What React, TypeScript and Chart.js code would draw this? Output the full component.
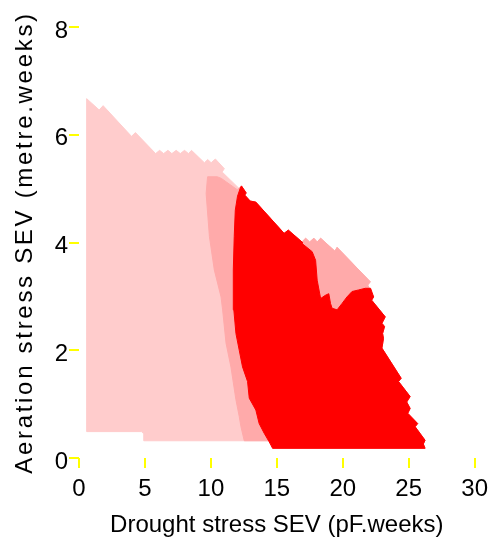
import React, { useEffect, useRef } from "react";
import { Chart, registerables } from "chart.js";

Chart.register(...registerables);

// Axis ticks
const xTicks = [0, 5, 10, 15, 20, 25, 30];
const yTicks = [0, 2, 4, 6, 8];
const xTitle = "Drought stress SEV (pF.weeks)";
const yTitle = "Aeration stress SEV (metre.weeks)";

// Outer envelope, pieces in clockwise order (x = drought SEV, y = aeration SEV)
const envLeft: [number, number][] = [
  [0.58, 0.49], [0.58, 6.67], [1.53, 6.46], [1.83, 6.54], [3.98, 5.97], [4.28, 6.04],
  [5.81, 5.65], [6.11, 5.71], [6.42, 5.65], [6.74, 5.71], [7.04, 5.65], [7.37, 5.71],
  [7.68, 5.65], [8.0, 5.71], [8.3, 5.65], [8.53, 5.71], [9.51, 5.48], [9.76, 5.54],
  [10.02, 5.48], [10.34, 5.55], [11.02, 5.37], [10.85, 5.31], [12.15, 5.0],
];
const envRedTop: [number, number][] = [
  [12.32, 5.05], [12.68, 4.92], [12.57, 4.88], [12.98, 4.77], [13.41, 4.75],
  [15.55, 4.17], [15.87, 4.23], [16.91, 4.01],
];
const envPatchTop: [number, number][] = [
  [17.18, 4.08], [17.49, 4.01], [17.81, 4.08], [18.06, 4.01], [18.32, 4.08],
  [19.4, 3.84], [19.57, 3.91], [22.09, 3.27], [21.89, 3.21],
];
const envRight: [number, number][] = [
  [22.34, 2.99], [22.19, 2.93], [23.22, 2.62], [22.97, 2.5], [23.17, 2.44], [23.02, 2.31],
  [23.09, 2.22], [22.97, 2.04], [24.43, 1.48], [24.23, 1.42], [25.11, 1.14], [24.85, 1.04],
  [25.11, 0.92], [24.93, 0.83], [25.68, 0.64], [25.49, 0.58], [26.24, 0.33], [26.11, 0.26],
  [26.24, 0.18],
];
const envBottom: [number, number][] = [
  [14.68, 0.18], [14.57, 0.32], [4.91, 0.32], [4.91, 0.45], [4.73, 0.49],
];

// Boundary between light and medium zone (top to bottom) and medium zone top
const midEdge: [number, number][] = [
  [9.75, 5.22], [9.64, 4.91], [9.89, 4.11], [10.26, 3.49], [10.77, 2.99], [10.89, 2.75],
  [11.15, 2.13], [11.52, 1.69], [11.9, 1.08], [12.15, 0.77], [12.28, 0.58], [12.53, 0.32],
];
const midTop: [number, number][] = [[10.49, 5.22], [10.79, 5.19], [12.0, 4.98]];

// Boundary between medium and red zone (top to bottom)
const redEdge: [number, number][] = [
  [12.23, 5.01], [12.02, 4.86], [11.85, 4.6], [11.77, 4.11], [11.7, 3.49], [11.74, 2.75],
  [11.9, 2.31], [12.15, 2.0], [12.4, 1.69], [12.78, 1.42], [12.91, 1.11], [13.41, 0.89],
  [13.66, 0.64], [14.04, 0.46], [14.42, 0.3], [14.68, 0.18],
];
// Lower edge of the medium patch in the upper right (left to right)
const patchEdge: [number, number][] = [
  [16.92, 3.98], [17.68, 3.83], [17.94, 3.67], [18.06, 3.3], [18.32, 2.96], [18.68, 3.02],
  [18.94, 3.05], [19.07, 2.87], [19.19, 2.78], [19.57, 2.75], [19.95, 2.87], [20.32, 2.99],
  [20.7, 3.09], [21.21, 3.12], [21.71, 3.15], [22.11, 3.15],
];

const lightColor = "#FFCCCC";
const midColor = "#FFAAAA";
const redColor = "#FF0000";

const toPts = (arr: [number, number][]) => {
  const pts = arr.map(([x, y]) => ({ x, y }));
  pts.push({ ...pts[0] });
  return pts;
};

const lightPoly = [...envLeft, ...envRedTop, ...envPatchTop, ...envRight, ...envBottom];
const midPoly = [
  ...midEdge.slice(0, 1), ...midTop, ...envRedTop, ...envPatchTop, ...envRight,
  [14.68, 0.18] as [number, number], [14.57, 0.32] as [number, number],
  ...midEdge.slice(1).reverse(),
];
const redPoly = [
  ...redEdge.slice(0, 1), ...envRedTop, ...patchEdge, ...envRight,
  ...redEdge.slice(1).reverse(),
];

const FONT = "'Liberation Sans', Arial, Helvetica, sans-serif";

const yTitlePlugin = {
  id: "yTitleSpaced",
  afterDraw(chart: any) {
    const ctx = chart.ctx as CanvasRenderingContext2D;
    const area = chart.chartArea;
    ctx.save();
    ctx.translate(25, (area.top + area.bottom) / 2);
    ctx.rotate(-Math.PI / 2);
    ctx.font = `24px ${FONT}`;
    (ctx as any).letterSpacing = "2.7px";
    ctx.textAlign = "center";
    ctx.textBaseline = "middle";
    ctx.fillStyle = "#000000";
    ctx.fillText(yTitle, 0, 0);
    ctx.restore();
  },
};

export default function App() {
  const ref = useRef<HTMLCanvasElement | null>(null);

  useEffect(() => {
    if (!ref.current) return;
    const mk = (poly: [number, number][], color: string) => ({
      data: toPts(poly),
      showLine: true,
      fill: "shape" as any,
      backgroundColor: color,
      borderColor: color,
      borderWidth: 1,
      pointRadius: 0,
      tension: 0,
    });
    const chart = new Chart(ref.current, {
      type: "scatter",
      data: {
        datasets: [mk(redPoly, redColor), mk(midPoly, midColor), mk(lightPoly, lightColor)],
      },
      options: {
        animation: false,
        responsive: false,
        devicePixelRatio: 1,
        layout: { padding: { top: 27, right: 19, left: 0, bottom: 0 } },
        plugins: { legend: { display: false }, tooltip: { enabled: false } },
        scales: {
          x: {
            type: "linear",
            min: 0,
            max: 30,
            afterBuildTicks: (s: any) => {
              s.ticks = xTicks.map((v) => ({ value: v }));
            },
            afterFit: (s: any) => {
              s.height = 80;
            },
            ticks: { font: { size: 24, family: FONT }, color: "#000", padding: 7, maxRotation: 0 },
            grid: {
              drawOnChartArea: false,
              drawTicks: true,
              tickLength: 10,
              color: "#FFFF00",
              lineWidth: 2,
            },
            border: { display: false },
            title: {
              display: true,
              text: xTitle,
              color: "#000",
              font: { size: 24, family: FONT },
              padding: { top: 0, bottom: -2 },
            },
          },
          y: {
            type: "linear",
            min: 0,
            max: 8,
            afterBuildTicks: (s: any) => {
              s.ticks = yTicks.map((v) => ({ value: v }));
            },
            afterFit: (s: any) => {
              s.width = 79;
            },
            ticks: { font: { size: 24, family: FONT }, color: "#000", padding: 1, labelOffset: 4 },
            grid: {
              drawOnChartArea: false,
              drawTicks: true,
              tickLength: 10,
              color: "#FFFF00",
              lineWidth: 2,
            },
            border: { display: false },
          },
        },
      },
      plugins: [yTitlePlugin],
    });
    return () => chart.destroy();
  }, []);

  return (
    <div style={{ position: "fixed", left: 0, top: 0, width: 495, height: 538, background: "#fff" }}>
      <canvas ref={ref} width={495} height={538} style={{ width: 495, height: 538, display: "block" }} />
    </div>
  );
}
